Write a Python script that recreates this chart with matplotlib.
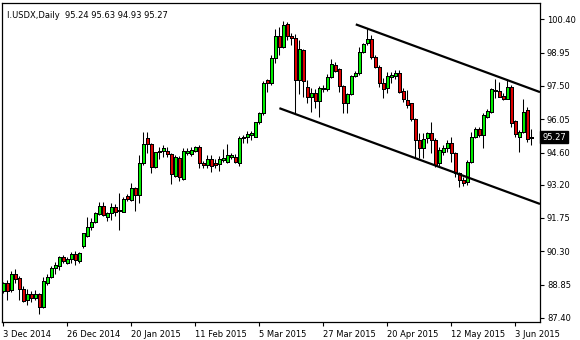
import matplotlib
matplotlib.use('Agg')
import matplotlib.pyplot as plt
import numpy as np

# daily USDX candles, 3 Dec 2014 .. 9 Jun 2015 (one per trading day)
opens = [88.58, 88.91, 88.61, 89.30, 89.12, 88.67, 88.18, 88.44, 88.25, 88.44,
         87.86, 88.93, 89.17, 89.56, 89.66, 90.04, 89.78, 89.95, 90.18, 89.89,
         90.53, 90.97, 91.37, 91.59, 91.92, 92.27, 91.81, 91.98, 92.21, 92.10,
         92.02, 92.71, 92.53, 93.04, 92.75, 94.16, 95.22, 94.96, 93.98, 94.61,
         94.68, 94.68, 94.52, 93.59, 94.35, 93.45, 94.57, 94.53, 94.68, 94.85,
         94.16, 94.06, 94.30, 94.13, 94.09, 94.27, 94.20, 94.42, 94.42, 94.16,
         95.22, 95.26, 95.36, 95.29, 95.91, 96.31, 97.76, 97.61, 98.70, 99.67,
         99.18, 100.18, 99.67, 99.57, 97.76, 99.06, 97.44, 97.00, 97.18, 96.86,
         97.35, 97.35, 97.87, 98.41, 98.22, 97.50, 96.74, 97.13, 97.93, 98.07,
         98.99, 99.35, 99.53, 98.75, 98.34, 97.63, 97.40, 97.87, 97.94, 98.07,
         97.29, 96.89, 96.74, 96.05, 95.15, 94.78, 95.22, 95.46, 95.15, 94.13,
         94.64, 94.78, 95.03, 94.57, 93.69, 93.40, 93.32, 94.20, 95.29, 95.61,
         95.36, 96.16, 96.38, 97.28, 97.28, 97.06, 96.92, 97.47, 95.97, 95.29,
         95.51, 96.45, 95.24]
highs = [88.97, 89.05, 89.45, 89.52, 89.22, 88.79, 88.64, 88.58, 88.61, 88.50,
         89.17, 89.31, 89.66, 89.85, 90.11, 90.12, 90.04, 90.25, 90.32, 90.25,
         91.11, 91.78, 91.74, 92.00, 92.46, 92.46, 92.02, 92.41, 92.36, 92.85,
         92.68, 92.79, 93.29, 93.11, 94.49, 95.51, 95.51, 95.00, 94.64, 94.85,
         94.93, 94.85, 94.57, 94.49, 94.45, 94.78, 94.78, 94.85, 94.88, 94.93,
         94.24, 94.49, 94.49, 94.30, 94.45, 94.74, 94.97, 94.59, 94.53, 95.32,
         95.36, 95.55, 95.55, 95.94, 96.38, 97.73, 97.79, 98.85, 99.96, 100.08,
         100.34, 100.30, 99.82, 99.76, 99.50, 99.09, 97.76, 97.40, 97.35, 97.50,
         97.54, 98.02, 98.66, 98.55, 98.27, 97.54, 97.18, 97.97, 98.16, 99.21,
         99.38, 100.01, 99.72, 98.85, 98.41, 97.84, 98.12, 98.12, 98.19, 98.19,
         97.40, 97.32, 96.76, 96.09, 95.44, 95.44, 95.51, 95.94, 95.22, 94.85,
         94.93, 95.15, 95.29, 94.64, 93.75, 93.53, 94.27, 95.51, 95.72, 95.70,
         96.31, 96.48, 97.40, 97.79, 97.68, 97.18, 97.79, 97.54, 96.01, 95.58,
         96.92, 96.59, 95.63]
lows = [88.50, 88.18, 88.51, 88.91, 88.18, 88.10, 87.96, 88.10, 88.18, 87.57,
        87.82, 88.83, 89.12, 89.31, 89.48, 89.78, 89.75, 89.78, 89.70, 89.78,
        90.43, 90.91, 91.23, 91.54, 91.88, 91.84, 91.63, 91.66, 91.84, 91.23,
        92.00, 92.50, 92.49, 92.07, 92.41, 94.06, 94.59, 93.69, 93.91, 94.30,
        94.42, 94.39, 93.22, 93.55, 93.37, 93.40, 94.49, 94.45, 94.64, 93.91,
        93.91, 93.91, 93.77, 93.91, 93.81, 94.20, 94.16, 94.30, 94.13, 94.01,
        95.00, 95.03, 95.14, 95.26, 95.84, 96.23, 97.25, 97.55, 98.48, 98.85,
        99.14, 99.50, 99.28, 96.31, 97.15, 97.03, 96.74, 96.38, 96.52, 96.13,
        97.25, 97.29, 97.83, 98.12, 97.25, 96.33, 96.31, 97.10, 97.90, 97.97,
        98.92, 99.28, 98.66, 98.27, 97.44, 96.96, 97.18, 97.61, 97.79, 97.18,
        96.81, 96.52, 95.99, 94.35, 94.35, 94.35, 95.00, 94.57, 93.98, 93.98,
        94.49, 94.64, 94.20, 93.55, 93.10, 93.12, 93.19, 94.13, 95.22, 95.29,
        94.78, 96.09, 96.33, 96.96, 97.00, 96.89, 96.92, 95.72, 95.27, 94.64,
        95.44, 95.06, 94.93]
closes = [88.93, 88.58, 89.30, 89.08, 88.64, 88.15, 88.44, 88.25, 88.44, 87.86,
          89.01, 89.19, 89.58, 89.70, 90.04, 89.89, 89.96, 90.18, 89.92, 90.21,
          91.08, 91.37, 91.59, 91.95, 92.27, 91.88, 91.95, 92.21, 92.02, 92.05,
          92.59, 92.56, 93.04, 92.75, 94.16, 94.96, 94.96, 93.98, 94.61, 94.68,
          94.78, 94.53, 93.65, 94.42, 93.52, 94.67, 94.68, 94.71, 94.83, 94.16,
          94.07, 94.30, 94.03, 94.06, 94.30, 94.36, 94.49, 94.49, 94.17, 95.22,
          95.29, 95.41, 95.45, 95.91, 96.31, 97.61, 97.61, 98.70, 99.67, 99.18,
          100.15, 99.67, 99.57, 97.76, 99.09, 97.73, 97.00, 97.18, 96.86, 97.40,
          97.40, 97.87, 98.45, 98.16, 97.50, 96.74, 97.13, 97.93, 98.05, 98.99,
          99.32, 99.53, 98.75, 98.34, 97.64, 97.37, 97.93, 97.97, 98.05, 97.25,
          96.92, 96.67, 96.05, 95.15, 94.78, 95.17, 95.46, 95.15, 94.06, 94.71,
          94.78, 95.03, 94.57, 93.69, 93.40, 93.27, 94.19, 95.29, 95.61, 95.36,
          96.23, 96.41, 97.35, 97.32, 97.03, 96.92, 97.47, 95.90, 95.41, 95.51,
          96.38, 95.17, 95.27]

xtick_pos = [0, 16, 32, 48, 64, 80, 96, 112, 128]
xtick_labels = ['3 Dec 2014', '26 Dec 2014', '20 Jan 2015', '11 Feb 2015', '5 Mar 2015',
                '27 Mar 2015', '20 Apr 2015', '12 May 2015', '3 Jun 2015']
ytick_vals = [100.40, 98.95, 97.50, 96.05, 94.60, 93.20, 91.75, 90.30, 88.85, 87.40]

# channel lines: start bar, start price, price at right edge
upper_line = [88.2, 100.18, 97.23]
lower_line = [69.1, 96.53, 92.36]

header = 'I.USDX,Daily  95.24 95.63 94.93 95.27'
last_price = 95.27

o = np.array(opens); h = np.array(highs); l = np.array(lows); c = np.array(closes)
x = np.arange(len(o))
up = c >= o

fig = plt.figure(figsize=(5.8, 3.4), dpi=100)
ax = fig.add_axes([2/580, 18/340, 538/580, 319/340])
xmax = 134.25
ax.set_xlim(-0.25, xmax)
ax.set_ylim(87.22, 101.11)

ax.vlines(x, l, h, color='black', linewidth=0.75, zorder=2)
body_lo = np.minimum(o, c)
body_h = np.maximum(np.abs(c - o), 0.02)
colors = np.where(up, '#00ee00', '#dd0000')
ax.bar(x, body_h, bottom=body_lo, width=0.75, color=colors,
       edgecolor='black', linewidth=0.5, zorder=3, antialiased=False)

for x0, p0, p1 in [upper_line, lower_line]:
    ax.plot([x0, xmax], [p0, p1], color='black', linewidth=1.6, zorder=4,
            solid_capstyle='butt')

ax.yaxis.tick_right()
ax.set_yticks(ytick_vals)
ax.set_yticklabels(['%.2f' % v for v in ytick_vals])
ax.set_xticks(xtick_pos)
ax.set_xticklabels(xtick_labels, ha='left')
ax.tick_params(axis='both', labelsize=6, length=3, width=0.8, direction='out', pad=2)
ax.tick_params(axis='x', pad=3)
for s in ax.spines.values():
    s.set_linewidth(0.9)

ax.text(0.009, 0.975, header, transform=ax.transAxes, fontsize=6,
        va='top', ha='left')
ax.annotate('%.2f' % last_price, xy=(1.0, last_price),
            xycoords=('axes fraction', 'data'), xytext=(1.5, 0),
            textcoords='offset points', fontsize=6, color='white',
            va='center', ha='left',
            bbox=dict(boxstyle='square,pad=0.2', fc='black', ec='black'))

fig.savefig('out.png', dpi=100)
